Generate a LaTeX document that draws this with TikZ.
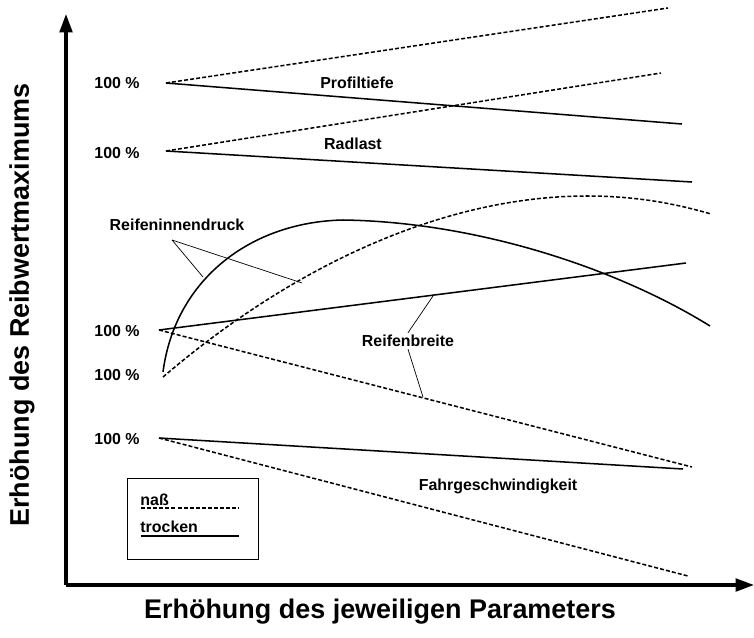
\documentclass[tikz,border=0pt]{standalone}
\usepackage{fontspec}
\setmainfont{Liberation Sans}
\usetikzlibrary{arrows.meta}

\tikzset{
  axis/.style={line width=2.6pt, -{Triangle[length=0.55cm,width=0.38cm]}},
  trocken/.style={line width=1.3pt},
  nass/.style={line width=1.3pt, dash pattern=on 3.4pt off 1.8pt},
  leader/.style={line width=0.6pt},
  lbl/.style={font=\bfseries\fontsize{13.6}{15}\selectfont, inner sep=1pt},
  axlbl/.style={font=\bfseries\fontsize{23}{27}\selectfont}
}

\begin{document}
\begin{tikzpicture}[x=0.03cm, y=-0.03cm]
    \useasboundingbox (0,0) rectangle (754,637);

    % Axes
    \coordinate (origin) at (66,585);
    \draw[axis] (origin) -- (66,14);
    \draw[axis] (origin) -- (754,585);
    \node[axlbl] (xlab) at (380,612) {Erhöhung des jeweiligen Parameters};
    \node[axlbl, rotate=90] (ylab) at (22,305) {Erhöhung des Reibwertmaximums};

    % Start points (100 %)
    \coordinate (pt) at (166,83);
    \coordinate (rl) at (166,151);
    \coordinate (rb) at (159,330);
    \coordinate (ri) at (163,374);
    \coordinate (fg) at (159,438);
    \node[lbl] (p1) at (117,83) {100 \%};
    \node[lbl] (p2) at (117,153) {100 \%};
    \node[lbl] (p3) at (117,331) {100 \%};
    \node[lbl] (p4) at (117,375) {100 \%};
    \node[lbl] (p5) at (117,439) {100 \%};

    % Profiltiefe
    \draw[trocken] (pt) -- (682,124);
    \draw[nass] (pt) -- (668,8);
    \node[lbl] (profil) at (357,83) {Profiltiefe};

    % Radlast
    \draw[trocken] (rl) -- (692,182);
    \draw[nass] (rl) -- (661,73);
    \node[lbl] (radlast) at (353,144) {Radlast};

    % Reifeninnendruck
    \draw[trocken] (163,372) .. controls (175,280) and (250,222) .. (343,220)
        .. controls (480,222) and (620,270) .. (710,326);
    \draw[nass] (163,377) .. controls (300,260) and (450,196) .. (587,196)
        .. controls (640,196) and (680,205) .. (711,214);
    \node[lbl] (innendruck) at (177,225) {Reifeninnendruck};
    \coordinate (ri-t) at (203,277);
    \coordinate (ri-n) at (302,283);
    \draw[leader] (172,240) -- (ri-t);
    \draw[leader] (172,240) -- (ri-n);

    % Reifenbreite
    \draw[trocken] (rb) -- (686,263);
    \draw[nass] (rb) -- (692,467);
    \node[lbl] (breite) at (408,341) {Reifenbreite};
    \coordinate (rb-t) at (433,296);
    \coordinate (rb-n) at (423,397);
    \draw[leader] (breite.north) ++(0,-1) -- (rb-t);
    \draw[leader] (breite.south) ++(0,1) -- (rb-n);

    % Fahrgeschwindigkeit
    \draw[trocken] (fg) -- (683,469);
    \draw[nass] (fg) -- (688,576);
    \node[lbl] (fahr) at (498,486) {Fahrgeschwindigkeit};

    % Legend
    \draw[line width=0.8pt] (127,478) rectangle (258,559);
    \node[lbl, anchor=west] (naß) at (139,500) {naß};
    \node[lbl, anchor=west] (trock) at (139,527) {trocken};
    \draw[nass, line width=1pt] (141,508) -- (239,508);
    \draw[trocken, line width=1pt] (141,536) -- (239,536);
\end{tikzpicture}
\end{document}
